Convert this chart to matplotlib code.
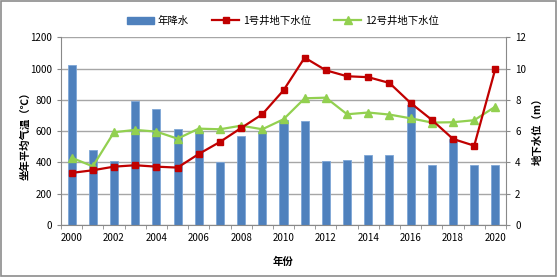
import matplotlib
matplotlib.use("Agg")
import matplotlib.pyplot as plt
import numpy as np
from matplotlib.patches import Rectangle
from matplotlib.lines import Line2D

plt.rcParams['font.family'] = ['Noto Sans CJK SC', 'DejaVu Sans']

years = list(range(2000, 2021))
precip = [1025, 480, 410, 790, 740, 615, 600, 405, 570, 600, 670, 665,
          410, 415, 445, 450, 765, 385, 550, 382, 382]
well1 = [3.33, 3.50, 3.73, 3.82, 3.73, 3.67, 4.54, 5.31, 6.20, 7.08, 8.61, 10.70,
         9.89, 9.51, 9.45, 9.08, 7.80, 6.72, 5.50, 5.07, 10.00]
well12 = [4.30, 3.75, 5.93, 6.08, 5.97, 5.52, 6.16, 6.12, 6.35, 6.12, 6.76, 8.10,
          8.14, 7.08, 7.19, 7.06, 6.82, 6.55, 6.57, 6.70, 7.57]

fig = plt.figure(figsize=(5.58, 2.77), dpi=100)
ax = fig.add_axes([61/558, 1-225/277, (506-61)/558, (225-37.3)/277])
ax2 = ax.twinx()

x = np.arange(len(years))
ax.bar(x, precip, width=0.38, color='#4f81bd', edgecolor='#7ea6d6', linewidth=0.6, zorder=2)
ax.set_ylim(0, 1200)
ax.set_yticks(range(0, 1201, 200))
ax.set_xlim(-0.5, len(years) - 0.5)
ax.set_xticks(x[::2])
ax.set_xticklabels([str(y) for y in years[::2]])
ax.set_xticks(np.arange(-0.5, len(years), 1), minor=True)
ax.tick_params(axis='x', which='major', length=0, pad=6)
ax.tick_params(axis='x', which='minor', length=3, color='#898989', direction='out')
ax.tick_params(axis='y', length=3, color='#898989', direction='out')
ax.grid(axis='y', color='#a6a6a6', linewidth=1.0, zorder=0)
ax.set_axisbelow(True)

ax2.plot(x, well1, color='#c00000', linewidth=1.6, marker='s', markersize=4.5,
         markerfacecolor='#c00000', markeredgecolor='#c00000', zorder=4)
ax2.plot(x, well12, color='#92d050', linewidth=1.6, marker='^', markersize=6,
         markerfacecolor='#92d050', markeredgecolor='#92d050', zorder=3)
ax2.set_ylim(0, 12)
ax2.set_yticks(range(0, 13, 2))
ax2.tick_params(axis='y', length=3, color='#898989', direction='out')

for a in (ax, ax2):
    a.spines['top'].set_visible(False)
    for s in ['left', 'right', 'bottom']:
        a.spines[s].set_color('#898989')
    a.tick_params(labelsize=7, labelcolor='#000000')
ax.spines['right'].set_visible(False)
ax2.spines['left'].set_visible(False)
ax2.spines['bottom'].set_visible(False)

fig.text(25/558, 1-133/277, '坐年平均气温（℃）', rotation=90, ha='center', va='center',
         fontsize=7.5, fontweight='bold')
fig.text(538/558, 1-129/277, '地下水位（m）', rotation=90, ha='center', va='center',
         fontsize=7.5, fontweight='bold')
fig.text(283/558, 1-262/277, '年份', ha='center', va='center', fontsize=7.5, fontweight='bold')

handles = [Rectangle((0, 0), 1, 1, color='#4f81bd'),
           Line2D([], [], color='#c00000', linewidth=1.6, marker='s', markersize=4.5),
           Line2D([], [], color='#92d050', linewidth=1.6, marker='^', markersize=6)]
labels = ['年降水', '1号井地下水位', '12号井地下水位']
fig.legend(handles, labels, loc='center', bbox_to_anchor=(283/558, 1-21/277), ncol=3,
           frameon=False, fontsize=7.5, handlelength=2.6, columnspacing=2.2, handletextpad=0.4)

fig.patches.append(Rectangle((0.002, 0.004), 0.995, 0.992, transform=fig.transFigure,
                             fill=False, edgecolor='#8c8c8c', linewidth=1.2))

fig.savefig('out.png', dpi=100)
